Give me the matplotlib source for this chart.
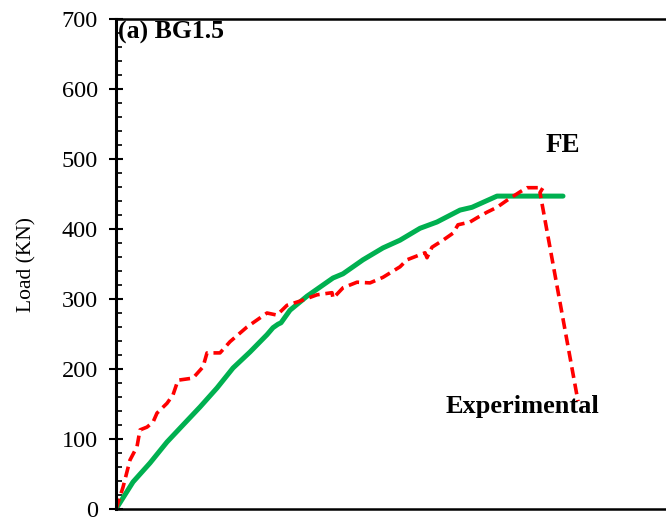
import matplotlib
matplotlib.use("Agg")
import matplotlib.pyplot as plt
from matplotlib.ticker import MultipleLocator

plt.rcParams['font.family'] = ['Liberation Serif', 'DejaVu Serif']

# FE curve (displacement in arbitrary units, load in kN)
fe_x = [0, 17, 34, 51, 67, 84, 101, 117, 134, 151, 157, 162, 165, 174, 191,
        217, 227, 247, 267, 284, 304, 321, 344, 356, 381, 447]
fe_y = [0, 38.6, 65.7, 95.7, 120, 145.7, 172.9, 201.4, 224.3, 249, 259, 264, 266, 284, 304,
        330, 336, 356, 373, 384, 401, 410, 427, 431, 447, 447]

# Experimental curve
exp_x = [0, 7, 14, 21, 24, 31, 37, 41, 51, 57, 62, 77, 87, 91, 104, 114,
         131, 151, 161, 171, 184, 201, 216, 217, 227, 241, 254, 267, 284,
         291, 309, 311, 316, 327, 337, 342, 354, 361, 371, 381, 391, 404,
         411, 427, 424, 462]
exp_y = [0, 31, 70, 89, 113, 117, 124, 137, 151, 163, 184, 187, 203, 223, 223, 239,
         260, 280, 277, 291, 297, 306, 309, 301, 316, 324, 323, 331, 346,
         356, 366, 359, 374, 384, 394, 406, 410, 416, 424, 431, 441, 453,
         459, 459, 452, 154]

fig = plt.figure(figsize=(6.66, 5.2), dpi=100)
ax = fig.add_axes([116/666, 11/520, 550/666, 490/520])

ax.plot(fe_x, fe_y, color='#00B050', linewidth=3.6, solid_capstyle='round')
ax.plot(exp_x, exp_y, color='#FF0000', linewidth=2.6, linestyle=(0, (3, 1.6)))

ax.set_xlim(0, 550)
ax.set_ylim(0, 700)
ax.yaxis.set_major_locator(MultipleLocator(100))
ax.yaxis.set_minor_locator(MultipleLocator(20))
ax.set_xticks([])
ax.tick_params(axis='y', which='major', direction='inout', length=10, width=1.5,
               labelsize=17.5, pad=8)
ax.tick_params(axis='y', which='minor', direction='in', length=4, width=1.2)

ax.spines['right'].set_visible(False)
ax.spines['left'].set_linewidth(2.2)
ax.spines['top'].set_linewidth(1.8)
ax.spines['bottom'].set_linewidth(1.8)

ax.set_ylabel('Load (KN)', fontsize=15.5, labelpad=18)

ax.text(2, 697, '(a) BG1.5', fontsize=18.5, fontweight='bold', va='top', ha='left')
ax.text(447, 520, 'FE', fontsize=19.5, fontweight='bold', ha='center', va='center')
ax.text(406, 147, 'Experimental', fontsize=19, fontweight='bold', ha='center', va='center')

fig.savefig('out.png', dpi=100)
